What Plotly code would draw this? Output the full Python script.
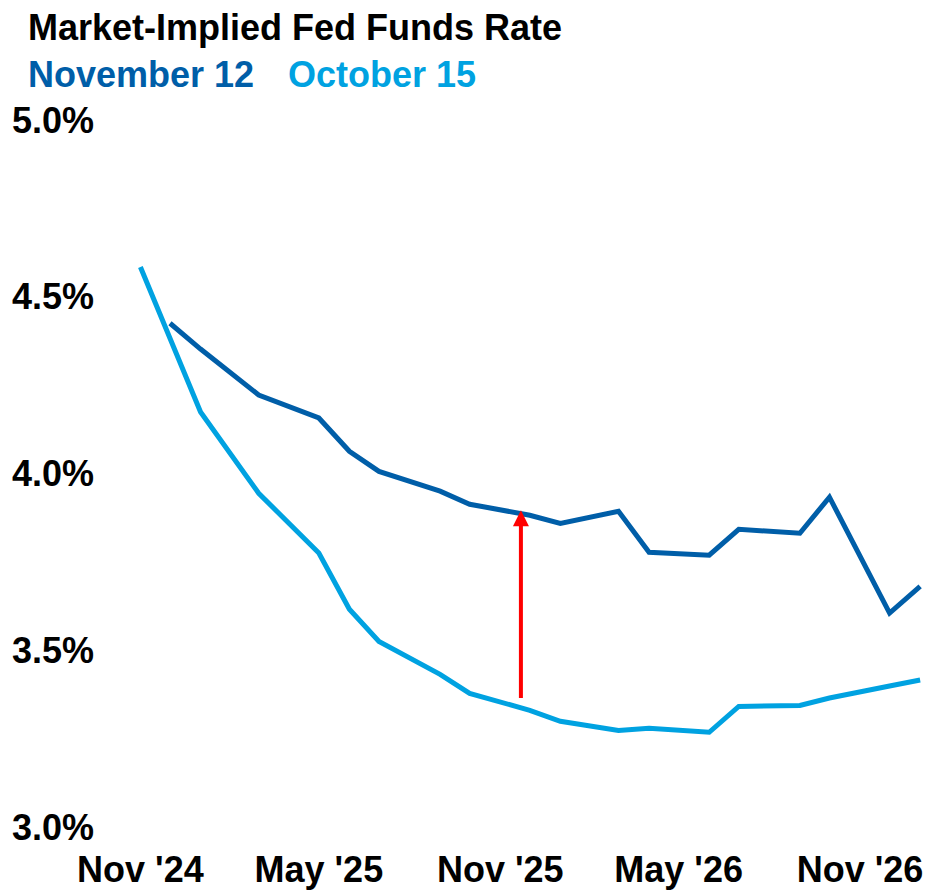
import plotly.graph_objects as go

# ---- data ----
nov12_dates = ["2024-12-01", "2025-01-01", "2025-03-01", "2025-05-01", "2025-06-01", "2025-07-01",
               "2025-09-01", "2025-10-01", "2025-12-01", "2026-01-01", "2026-03-01", "2026-04-01",
               "2026-06-01", "2026-07-01", "2026-09-01", "2026-10-01", "2026-12-01", "2027-01-01"]
nov12_rates = [4.425, 4.352, 4.222, 4.157, 4.063, 4.006,
               3.950, 3.913, 3.882, 3.859, 3.893, 3.777,
               3.769, 3.842, 3.831, 3.933, 3.605, 3.681]

oct15_dates = ["2024-11-01", "2024-12-01", "2025-01-01", "2025-03-01", "2025-05-01", "2025-06-01",
               "2025-07-01", "2025-09-01", "2025-10-01", "2025-12-01", "2026-01-01", "2026-03-01",
               "2026-04-01", "2026-06-01", "2026-07-01", "2026-09-01", "2026-10-01", "2026-12-01",
               "2027-01-01"]
oct15_rates = [4.584, 4.380, 4.174, 3.944, 3.775, 3.616,
               3.525, 3.432, 3.378, 3.330, 3.299, 3.273,
               3.279, 3.268, 3.341, 3.344, 3.365, 3.399,
               3.416]

x_tick_vals = ["2024-11-01", "2025-05-01", "2025-11-01", "2026-05-01", "2026-11-01"]
x_tick_text = ["Nov '24", "May '25", "Nov '25", "May '26", "Nov '26"]
y_tick_vals = [3.0, 3.5, 4.0, 4.5, 5.0]
y_tick_text = ["3.0%", "3.5%", "4.0%", "4.5%", "5.0%"]

arrow_date = "2025-11-22"
arrow_from = 3.361
arrow_to = 3.896

title_text = "Market-Implied Fed Funds Rate"
series_names = ["November 12", "October 15"]

DARK = "#005EA8"
LIGHT = "#00A2E1"
FONT = "Liberation Sans, Arial, Helvetica, sans-serif"

fig = go.Figure()
fig.add_trace(go.Scatter(x=oct15_dates, y=oct15_rates, mode="lines", name=series_names[1],
                         line=dict(color=LIGHT, width=5), hoverinfo="x+y"))
fig.add_trace(go.Scatter(x=nov12_dates, y=nov12_rates, mode="lines", name=series_names[0],
                         line=dict(color=DARK, width=5), hoverinfo="x+y"))

annotations = [
    dict(text=title_text, xref="paper", yref="paper", x=-0.0891, y=1.1308,
         xanchor="left", yanchor="middle", showarrow=False,
         font=dict(family=FONT, size=36, color="#000000", weight="bold")),
    dict(text=series_names[0], xref="paper", yref="paper", x=-0.0891, y=1.0646,
         xanchor="left", yanchor="middle", showarrow=False,
         font=dict(family=FONT, size=36, color=DARK, weight="bold")),
    dict(text=series_names[1], xref="paper", yref="paper", x=0.2241, y=1.0646,
         xanchor="left", yanchor="middle", showarrow=False,
         font=dict(family=FONT, size=36, color=LIGHT, weight="bold")),
    dict(text="", x=arrow_date, y=arrow_to, xref="x", yref="y",
         ax=arrow_date, ay=arrow_from, axref="x", ayref="y",
         showarrow=True, arrowhead=2, arrowwidth=4, arrowsize=0.8, arrowcolor="#FF0000"),
]

fig.update_layout(
    width=937, height=882,
    margin=dict(l=92, r=15, t=112, b=63, autoexpand=False),
    paper_bgcolor="white", plot_bgcolor="white",
    showlegend=False,
    annotations=annotations,
    font=dict(family=FONT, size=36, color="#000000", weight="bold"),
    xaxis=dict(type="date", range=["2024-09-21", "2027-01-11"],
               tickvals=x_tick_vals, ticktext=x_tick_text,
               showgrid=False, zeroline=False, showline=False, ticks="",
               ticklabelstandoff=18, automargin=False,
               tickfont=dict(family=FONT, size=36, color="#000000", weight="bold")),
    yaxis=dict(range=[3.0, 5.0], tickvals=y_tick_vals, ticktext=y_tick_text,
               showgrid=False, zeroline=False, showline=False, ticks="",
               ticklabelstandoff=5, automargin=False,
               tickfont=dict(family=FONT, size=36, color="#000000", weight="bold")),
)

fig.write_html("out.html")
